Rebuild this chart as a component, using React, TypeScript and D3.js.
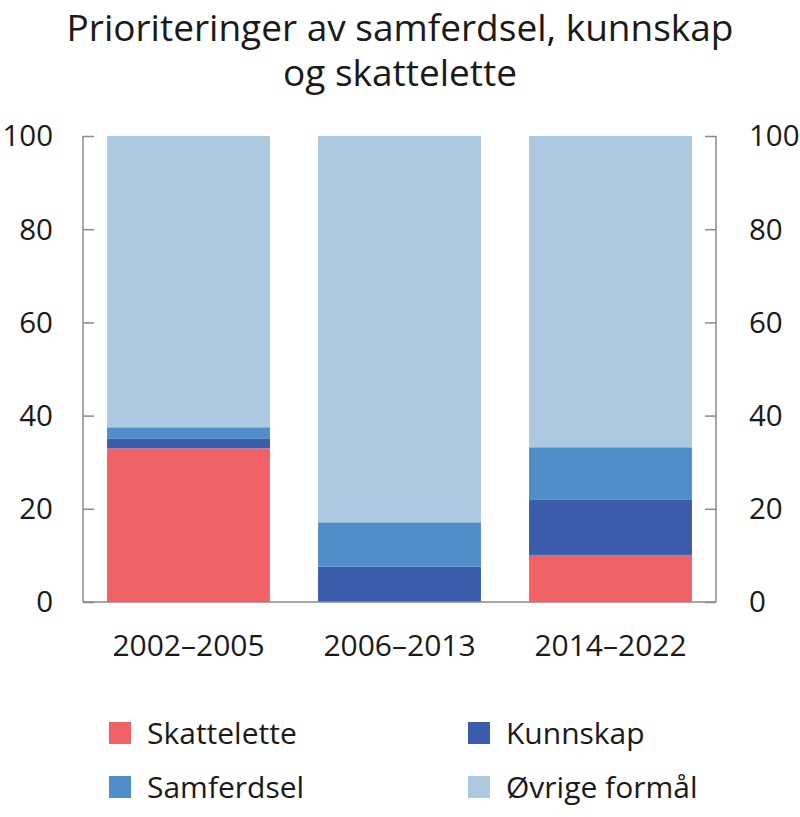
import { useEffect, useRef } from "react";
import * as d3 from "d3";

const W = 800;
const H = 817;
const MARGIN = { top: 136, right: 84, bottom: 215, left: 83 };

const periods = ["2002–2005", "2006–2013", "2014–2022"];
const series = ["Skattelette", "Kunnskap", "Samferdsel", "Øvrige formål"];
const skattelette = [33, 0, 10.1];
const kunnskap = [2, 7.6, 11.8];
const samferdsel = [2.5, 9.5, 11.3];
const ovrige = [62.5, 82.9, 66.8];
const colors = ["#f06266", "#3b5caa", "#4f8ecb", "#adc9e2"];
const yTicks = [0, 20, 40, 60, 80, 100];
const legendOrder = ["Skattelette", "Kunnskap", "Samferdsel", "Øvrige formål"];

const FONT = "'Open Sans', 'DejaVu Sans', sans-serif";

const App = () => {
  const ref = useRef(null);

  useEffect(() => {
    const svg = d3.select(ref.current);
    svg.selectAll("*").remove();

    const boundsW = W - MARGIN.left - MARGIN.right;
    const boundsH = H - MARGIN.top - MARGIN.bottom;

    const rows = periods.map((p, i) => ({
      period: p,
      Skattelette: skattelette[i],
      Kunnskap: kunnskap[i],
      Samferdsel: samferdsel[i],
      "Øvrige formål": ovrige[i],
    }));
    const stacked = d3.stack().keys(series)(rows as any);

    const x = d3
      .scaleBand()
      .domain(periods)
      .range([0, boundsW])
      .paddingInner(0.228)
      .paddingOuter(0.114);
    const y = d3.scaleLinear().domain([0, 100]).range([boundsH, 0]);
    const color = d3.scaleOrdinal<string>().domain(series).range(colors);

    // title
    const title = svg
      .append("text")
      .attr("text-anchor", "middle")
      .attr("font-family", FONT)
      .attr("font-size", 37)
      .attr("fill", "#1a1a1a");
    title.append("tspan").attr("x", W / 2).attr("y", 41).text("Prioriteringer av samferdsel, kunnskap");
    title.append("tspan").attr("x", W / 2).attr("y", 86).text("og skattelette");

    const g = svg
      .append("g")
      .attr("transform", `translate(${MARGIN.left}, ${MARGIN.top})`);

    // bars
    g.selectAll(".layer")
      .data(stacked)
      .join("g")
      .attr("fill", (d) => color(d.key))
      .selectAll("rect")
      .data((d) => d)
      .join("rect")
      .attr("x", (d: any) => x(d.data.period)!)
      .attr("width", x.bandwidth())
      .attr("y", (d) => y(d[1]))
      .attr("height", (d) => y(d[0]) - y(d[1]));

    // axes
    const axisColor = "#8a8a8a";
    const leftAxis = g
      .append("g")
      .call(d3.axisRight(y).tickValues(yTicks).tickSize(11).tickFormat(() => ""));
    const rightAxis = g
      .append("g")
      .attr("transform", `translate(${boundsW}, 0)`)
      .call(d3.axisLeft(y).tickValues(yTicks).tickSize(11).tickFormat(() => ""));
    [leftAxis, rightAxis].forEach((a) => {
      a.select(".domain").remove();
      a.selectAll(".tick line").attr("stroke", axisColor).attr("stroke-width", 1.5);
    });
    g.append("line")
      .attr("x1", 0)
      .attr("x2", 0)
      .attr("y1", 0)
      .attr("y2", boundsH)
      .attr("stroke", axisColor)
      .attr("stroke-width", 1.5);
    g.append("line")
      .attr("x1", boundsW)
      .attr("x2", boundsW)
      .attr("y1", 0)
      .attr("y2", boundsH)
      .attr("stroke", axisColor)
      .attr("stroke-width", 1.5);
    g.append("line")
      .attr("x1", 0)
      .attr("x2", boundsW)
      .attr("y1", boundsH)
      .attr("y2", boundsH)
      .attr("stroke", axisColor)
      .attr("stroke-width", 1.5);

    // tick labels
    g.selectAll(".yl")
      .data(yTicks)
      .join("text")
      .attr("x", -30)
      .attr("y", (d) => y(d))
      .attr("dy", "0.35em")
      .attr("text-anchor", "end")
      .attr("font-family", FONT)
      .attr("font-size", 29.5)
      .attr("fill", "#1a1a1a")
      .text((d) => d);
    g.selectAll(".yr")
      .data(yTicks)
      .join("text")
      .attr("x", boundsW + 33)
      .attr("y", (d) => y(d))
      .attr("dy", "0.35em")
      .attr("text-anchor", "start")
      .attr("font-family", FONT)
      .attr("font-size", 29.5)
      .attr("fill", "#1a1a1a")
      .text((d) => d);
    g.selectAll(".xl")
      .data(periods)
      .join("text")
      .attr("x", (d) => x(d)! + x.bandwidth() / 2)
      .attr("y", boundsH + 43)
      .attr("dy", "0.35em")
      .attr("text-anchor", "middle")
      .attr("font-family", FONT)
      .attr("font-size", 30)
      .attr("fill", "#1a1a1a")
      .text((d) => d);

    // legend
    const legend = svg
      .append("g")
      .selectAll("g")
      .data(legendOrder)
      .join("g")
      .attr(
        "transform",
        (d, i) => `translate(${i % 2 === 0 ? 109 : 468}, ${i < 2 ? 733 : 787})`
      );
    legend
      .append("rect")
      .attr("x", 0)
      .attr("y", -11)
      .attr("width", 22)
      .attr("height", 22)
      .attr("fill", (d) => color(d));
    legend
      .append("text")
      .attr("x", 38)
      .attr("y", 0)
      .attr("dy", "0.35em")
      .attr("font-family", FONT)
      .attr("font-size", 30)
      .attr("fill", "#1a1a1a")
      .text((d) => d);
  }, []);

  return (
    <svg
      ref={ref}
      width={W}
      height={H}
      style={{ position: "absolute", left: 0, top: 0, background: "#fff" }}
    ></svg>
  );
};

export default App;
